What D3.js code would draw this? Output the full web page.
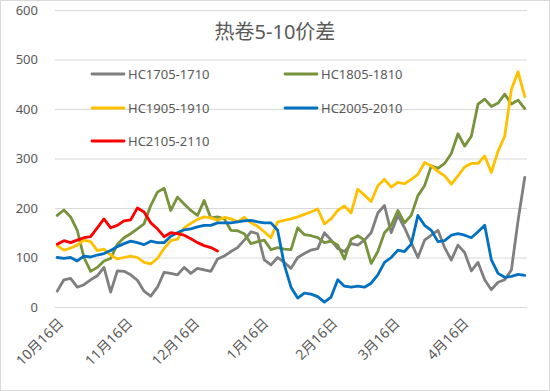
<!DOCTYPE html>
<html>
<head>
<meta charset="utf-8">
<script src="https://cdn.jsdelivr.net/npm/d3@7"></script>
<style>
html,body{margin:0;padding:0;background:#fff;}
svg{display:block;}
</style>
</head>
<body>
<svg id="chart" width="550" height="391"></svg>
<script>
// ---------- DATA ----------
const title = "热卷5-10价差";
const seriesNames = ["HC1705-1710","HC1805-1810","HC1905-1910","HC2005-2010","HC2105-2110"];
const seriesColors = ["#7f7f7f","#77933c","#ffc000","#0070c0","#ff0000"];
const dates = [
"2016-10-17","2016-10-20","2016-10-23","2016-10-26","2016-10-29","2016-11-01","2016-11-04","2016-11-07","2016-11-10","2016-11-13",
"2016-11-16","2016-11-19","2016-11-22","2016-11-25","2016-11-28","2016-12-01","2016-12-04","2016-12-07","2016-12-10","2016-12-13",
"2016-12-16","2016-12-19","2016-12-22","2016-12-25","2016-12-28","2016-12-31","2017-01-03","2017-01-06","2017-01-09","2017-01-12",
"2017-01-15","2017-01-18","2017-01-21","2017-01-24","2017-01-27","2017-01-30","2017-02-02","2017-02-05","2017-02-08","2017-02-11",
"2017-02-14","2017-02-17","2017-02-20","2017-02-23","2017-02-26","2017-03-01","2017-03-04","2017-03-07","2017-03-10","2017-03-13",
"2017-03-16","2017-03-19","2017-03-22","2017-03-25","2017-03-28","2017-03-31","2017-04-03","2017-04-06","2017-04-09","2017-04-12",
"2017-04-15","2017-04-18","2017-04-21","2017-04-24","2017-04-27","2017-04-30","2017-05-03","2017-05-06","2017-05-09","2017-05-12",
"2017-05-15"];
const hc1705 = [32,55,58,40,45,55,63,80,30,73, 72,65,54,32,22,40,70,68,65,80, 68,78,75,72,97,103,112,120,135,152,
 148,95,85,100,90,78,100,108,115,118, 150,135,118,112,128,125,135,150,190,205, 150,185,160,130,100,135,145,155,120,95,
 125,110,73,90,55,35,50,55,75,175, 262];
const hc1805 = [185,196,182,155,100,72,80,93,98,127, 140,148,158,168,205,232,240,195,222,208, 195,185,215,180,182,178,155,154,148,128,
 132,135,116,120,117,116,160,146,144,140, 130,133,125,97,137,144,135,88,112,150, 165,195,170,185,225,245,285,280,290,310,
 350,325,345,410,420,405,412,430,410,418, 401];
const hc1905 = [124,115,119,125,135,132,114,117,105,97, 100,103,100,90,87,98,118,134,137,160, 169,177,182,180,175,181,178,172,181,170,
 163,152,140,172,175,178,182,187,192,198, 168,178,195,204,190,238,226,213,245,258, 242,252,249,258,268,292,285,274,265,248,
 265,283,290,290,305,272,315,345,440,475, 425];
const hc2005 = [100,98,100,93,103,101,105,108,114,122, 128,133,130,126,133,130,130,143,150,156, 158,162,165,165,170,170,170,172,174,175,
 172,170,170,155,85,40,18,28,26,21, 10,20,55,42,40,42,40,48,65,90, 100,115,112,127,185,165,155,132,134,145,
 148,145,140,152,165,95,68,60,62,66, 64];
const hc2105 = [127,134,130,135,140,142,160,178,160,165, 174,176,200,192,170,158,142,150,148,145, 138,130,124,120,113];
const seriesValues = [hc1705, hc1805, hc1905, hc2005, hc2105];
const yTicks = [0,100,200,300,400,500,600];
const xTickDates = ["2016-10-16","2016-11-16","2016-12-16","2017-01-16","2017-02-16","2017-03-16","2017-04-16"];

// ---------- CHART ----------
const svg = d3.select("#chart");
const W = 550, H = 391;
const parse = d3.timeParse("%Y-%m-%d");
const m = {left:55, right:527, top:10, bottom:307};

svg.append("rect").attr("x",0.5).attr("y",0.5).attr("width",W-1).attr("height",H-1)
  .attr("fill","#fff").attr("stroke","#d9d9d9");

const x = d3.scaleTime().domain([parse("2016-10-16"), parse("2017-05-16")]).range([m.left, m.right]);
const y = d3.scaleLinear().domain([0,600]).range([m.bottom, m.top]);

const font = "'Noto Sans','Noto Sans CJK SC',sans-serif";

// gridlines + y labels
const yAxis = d3.axisLeft(y).tickValues(yTicks).tickSize(-(m.right-m.left)).tickPadding(17).tickFormat(d3.format("d"));
const gy = svg.append("g").attr("transform",`translate(${m.left},0)`).call(yAxis);
gy.select(".domain").remove();
gy.selectAll(".tick line").attr("stroke","#d9d9d9").attr("stroke-width",1);
gy.selectAll(".tick text").attr("fill","#595959").style("font-family",font).style("font-size","13px");

// x labels
const xAxis = d3.axisBottom(x).tickValues(xTickDates.map(parse)).tickSize(0).tickFormat(d3.timeFormat("%-m月%-d日"));
const gx = svg.append("g").attr("transform",`translate(0,${m.bottom})`).call(xAxis);
gx.select(".domain").remove();
gx.selectAll(".tick text")
  .attr("fill","#595959").style("font-family",font).style("font-size","14px")
  .attr("text-anchor","end").attr("dy",null).attr("y",0)
  .attr("transform","translate(9,17) rotate(-45)");

// title
svg.append("text").attr("x",275).attr("y",39).attr("text-anchor","middle")
  .attr("fill","#595959").style("font-family",font).style("font-size","20px").text(title);

// lines
const line = d3.line().x(d=>x(d[0])).y(d=>y(d[1]));
seriesValues.forEach((vals,i)=>{
  const pts = vals.map((v,j)=>[parse(dates[j]), v]);
  svg.append("path").datum(pts).attr("d",line).attr("fill","none")
    .attr("stroke",seriesColors[i]).attr("stroke-width",2.8)
    .attr("stroke-linejoin","round").attr("stroke-linecap","round");
});

// legend
const legPos = [[92,74],[285,74],[92,108],[285,108],[92,141]];
seriesNames.forEach((n,i)=>{
  const [lx,ly] = legPos[i];
  const g = svg.append("g").attr("transform",`translate(${lx},${ly})`);
  g.append("line").attr("x1",0).attr("x2",32).attr("y1",0).attr("y2",0)
    .attr("stroke",seriesColors[i]).attr("stroke-width",2.8).attr("stroke-linecap","round");
  g.append("text").attr("x",36).attr("y",0).attr("dy","0.35em").attr("fill","#595959")
    .style("font-family",font).style("font-size","13px").text(n);
});
</script>
</body>
</html>
